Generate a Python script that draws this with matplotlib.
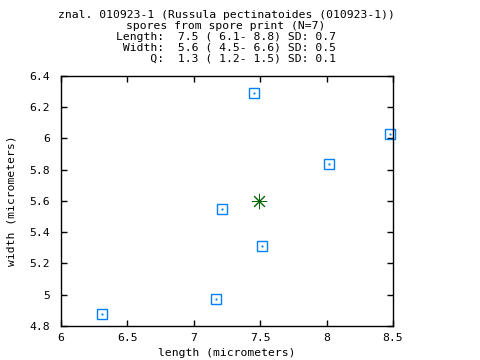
import matplotlib
matplotlib.use("Agg")
import matplotlib.pyplot as plt

length = [7.45, 8.48, 8.02, 7.21, 7.51, 7.17, 6.31]
width = [6.29, 6.03, 5.835, 5.55, 5.315, 4.97, 4.875]
mean_length = [7.49]
mean_width = [5.60]

title_lines = [
    "znal. 010923-1 (Russula pectinatoides (010923-1))",
    "spores from spore print (N=7)",
    "Length:  7.5 ( 6.1- 8.8) SD: 0.7",
    " Width:  5.6 ( 4.5- 6.6) SD: 0.5",
    "     Q:  1.3 ( 1.2- 1.5) SD: 0.1",
]
xticks = [6, 6.5, 7, 7.5, 8, 8.5]
xticklabels = ["6", "6.5", "7", "7.5", "8", "8.5"]
yticks = [4.8, 5, 5.2, 5.4, 5.6, 5.8, 6, 6.2, 6.4]
yticklabels = ["4.8", "5", "5.2", "5.4", "5.6", "5.8", "6", "6.2", "6.4"]

FONT = "DejaVu Sans Mono"
FS = 8.2
blue = "#0080FF"
green = "#006400"

fig = plt.figure(figsize=(4.8, 3.6), dpi=100)
ax = fig.add_axes([61/480, 1 - 326/360, (393-61)/480, (326-76)/360])

ax.plot(length, width, linestyle="none", marker="s", markersize=7.2,
        markerfacecolor="none", markeredgecolor=blue, markeredgewidth=1.0, clip_on=False)
ax.plot(length, width, linestyle="none", marker=".", markersize=1.2,
        color=blue, clip_on=False)
ax.plot(mean_length, mean_width, linestyle="none", marker=(8, 2, 0), markersize=11,
        markeredgecolor=green, markeredgewidth=0.7, clip_on=False)

ax.set_xlim(6, 8.5)
ax.set_ylim(4.8, 6.4)
ax.set_xticks(xticks)
ax.set_xticklabels(xticklabels, fontfamily=FONT, fontsize=FS)
ax.set_yticks(yticks)
ax.set_yticklabels(yticklabels, fontfamily=FONT, fontsize=FS)
ax.tick_params(direction="in", top=True, right=True, length=4, width=1)
ax.tick_params(axis="y", pad=8)
ax.tick_params(axis="x", pad=5)
for s in ax.spines.values():
    s.set_linewidth(1)

ax.set_xlabel("length (micrometers)", fontfamily=FONT, fontsize=FS, labelpad=4)
ax.set_ylabel("width (micrometers)", fontfamily=FONT, fontsize=FS, labelpad=9)

fig.text(226/480, 1 - 10/360, "\n".join(title_lines), ha="center", va="top",
         multialignment="center", fontfamily=FONT, fontsize=FS, linespacing=1.1)

fig.savefig("out.png", dpi=100)
